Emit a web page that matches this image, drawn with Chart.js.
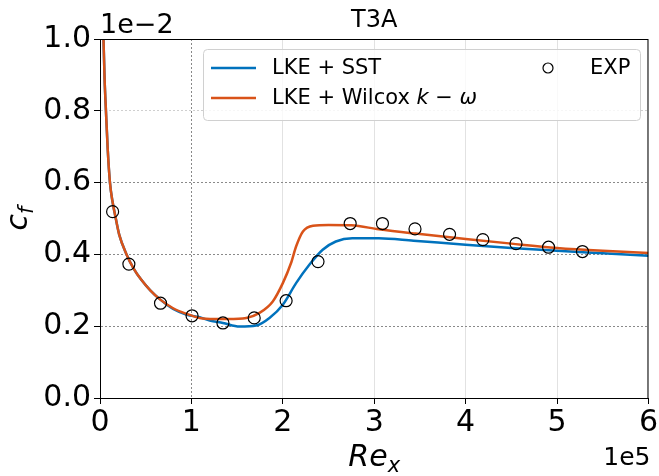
<!DOCTYPE html>
<html>
<head>
<meta charset="utf-8">
<script src="https://cdn.jsdelivr.net/npm/chart.js@4/dist/chart.umd.min.js"></script>
<style>
	body { margin: 0; background: #fff; }
</style>
</head>
<body>
<canvas id="chart-cf" width="659" height="476"></canvas>
<script>
// Re_x in units of 1e5, c_f in units of 1e-2
const wilcoxRe = [0.03, 0.036, 0.05, 0.065, 0.085, 0.109, 0.135, 0.165, 0.21, 0.29, 0.37, 0.45, 0.55, 0.66, 0.8, 0.95, 1.09, 1.25, 1.4, 1.6, 1.745, 1.89, 2.0, 2.09, 2.145, 2.22, 2.33, 2.5, 2.75, 3.05, 3.45, 4.0, 4.5, 5.0, 5.5, 6.0];
const wilcoxCf = [1.1, 1.02, 0.89, 0.80, 0.69, 0.60, 0.55, 0.51, 0.455, 0.40, 0.36, 0.33, 0.30, 0.274, 0.25, 0.234, 0.223, 0.220, 0.220, 0.223, 0.237, 0.269, 0.320, 0.376, 0.422, 0.464, 0.480, 0.482, 0.481, 0.470, 0.458, 0.443, 0.430, 0.418, 0.410, 0.404];

const sstRe = [0.03, 0.036, 0.05, 0.065, 0.085, 0.109, 0.135, 0.165, 0.21, 0.29, 0.37, 0.45, 0.55, 0.66, 0.8, 0.95, 1.09, 1.2, 1.345, 1.527, 1.708, 1.854, 2.0, 2.145, 2.29, 2.436, 2.58, 2.76, 3.05, 3.43, 4.0, 4.5, 5.0, 5.5, 6.0];
const sstCf = [1.1, 1.02, 0.89, 0.80, 0.69, 0.60, 0.55, 0.51, 0.455, 0.40, 0.36, 0.33, 0.30, 0.274, 0.248, 0.232, 0.225, 0.216, 0.209, 0.199, 0.202, 0.223, 0.260, 0.320, 0.371, 0.413, 0.436, 0.445, 0.445, 0.438, 0.427, 0.418, 0.410, 0.403, 0.396];

const expRe = [0.138, 0.316, 0.662, 1.007, 1.345, 1.687, 2.036, 2.385, 2.737, 3.09, 3.446, 3.824, 4.188, 4.551, 4.907, 5.278];
const expCf = [0.519, 0.373, 0.264, 0.229, 0.209, 0.223, 0.271, 0.380, 0.486, 0.486, 0.471, 0.456, 0.441, 0.430, 0.420, 0.408];

const xTicks = [0, 1, 2, 3, 4, 5, 6];
const yTicks = [0, 0.2, 0.4, 0.6, 0.8, 1.0];

const FONT = "'DejaVu Sans', sans-serif";
const BLUE = '#0072bd';
const ORANGE = '#d95319';

const toPoints = (xs, ys) => xs.map((x, i) => ({ x: x, y: ys[i] }));

// draws text runs, each [text, italic]
function drawRuns(ctx, runs, x, y, size) {
	runs.forEach(r => {
		ctx.font = (r[1] ? 'italic ' : '') + size + 'px ' + FONT;
		ctx.fillText(r[0], x, y);
		x += ctx.measureText(r[0]).width;
	});
}

// frame, texts and matplotlib-like legend
const decorations = {
	id: 'decorations',
	afterDraw(chart) {
		const ctx = chart.ctx;
		const a = chart.chartArea;
		ctx.save();

		ctx.strokeStyle = '#000';
		ctx.lineWidth = 1;
		ctx.strokeRect(a.left + 0.5, a.top + 0.5, a.right - a.left - 1, a.bottom - a.top);

		ctx.fillStyle = '#000';
		ctx.textBaseline = 'alphabetic';

		ctx.font = '24px ' + FONT;
		ctx.textAlign = 'center';
		ctx.fillText('T3A', (a.left + a.right) / 2, 27);

		ctx.font = '27px ' + FONT;
		ctx.textAlign = 'left';
		ctx.fillText('1e\u22122', a.left, 33);

		ctx.font = '25px ' + FONT;
		ctx.textAlign = 'right';
		ctx.fillText('1e5', a.right + 2, 465);

		// x label Re_x
		ctx.textAlign = 'left';
		ctx.font = 'italic 30px ' + FONT;
		const reW = ctx.measureText('Re').width;
		ctx.font = 'italic 21px ' + FONT;
		const xW = ctx.measureText('x').width;
		let sx = (a.left + a.right) / 2 - (reW + xW) / 2;
		ctx.font = 'italic 30px ' + FONT;
		ctx.fillText('Re', sx, 466);
		ctx.font = 'italic 21px ' + FONT;
		ctx.fillText('x', sx + reW, 472);

		// y label c_f
		ctx.translate(27, (a.top + a.bottom) / 2);
		ctx.rotate(-Math.PI / 2);
		ctx.font = 'italic 30px ' + FONT;
		const cW = ctx.measureText('c').width;
		ctx.font = 'italic 21px ' + FONT;
		const fW = ctx.measureText('f').width;
		sx = -(cW + fW) / 2;
		ctx.font = 'italic 30px ' + FONT;
		ctx.fillText('c', sx, 0);
		ctx.font = 'italic 21px ' + FONT;
		ctx.fillText('f', sx + cW, 6);
		ctx.setTransform(1, 0, 0, 1, 0, 0);

		// legend box
		const bx = 203, by = 49, bw = 437, bh = 71;
		ctx.beginPath();
		ctx.roundRect(bx + 0.5, by + 0.5, bw, bh, 4);
		ctx.fillStyle = 'rgba(255,255,255,0.8)';
		ctx.fill();
		ctx.strokeStyle = '#d0d0d0';
		ctx.stroke();

		const ds = chart.data.datasets;
		const rows = [68, 98];
		ctx.textBaseline = 'middle';
		ctx.textAlign = 'left';
		[ds[2], ds[1]].forEach((d, i) => {
			ctx.strokeStyle = d.borderColor;
			ctx.lineWidth = 2.5;
			ctx.beginPath();
			ctx.moveTo(211, rows[i]);
			ctx.lineTo(256, rows[i]);
			ctx.stroke();
			ctx.fillStyle = '#000';
			// k and omega in italics, like mathtext
			const parts = d.label.split(/(k|\u03c9)/).filter(p => p !== '').map(p => [p, p === 'k' || p === '\u03c9']);
			drawRuns(ctx, parts, 272, rows[i] + 1, 21);
		});
		ctx.strokeStyle = '#000';
		ctx.lineWidth = 1.2;
		ctx.beginPath();
		ctx.arc(548, rows[0], 5, 0, Math.PI * 2);
		ctx.stroke();
		ctx.fillStyle = '#000';
		ctx.font = '21px ' + FONT;
		ctx.fillText(ds[0].label, 590, rows[0] + 1);

		ctx.restore();
	}
};

const ctxCf = document.querySelector('#chart-cf').getContext('2d');

const chartCf = new Chart(ctxCf, {
	type: 'line',
	data: {
		datasets: [
			{
				label: 'EXP',
				data: toPoints(expRe, expCf),
				showLine: false,
				pointStyle: 'circle',
				pointRadius: 6,
				pointBorderWidth: 1.2,
				pointBorderColor: '#000',
				pointBackgroundColor: 'rgba(0,0,0,0)',
				borderColor: '#000',
				order: 0
			},
			{
				label: 'LKE + Wilcox k \u2212 \u03c9',
				data: toPoints(wilcoxRe, wilcoxCf),
				borderColor: ORANGE,
				borderWidth: 2.5,
				pointRadius: 0,
				cubicInterpolationMode: 'monotone',
				order: 1
			},
			{
				label: 'LKE + SST',
				data: toPoints(sstRe, sstCf),
				borderColor: BLUE,
				borderWidth: 2.5,
				pointRadius: 0,
				cubicInterpolationMode: 'monotone',
				order: 2
			}
		]
	},
	options: {
		responsive: false,
		animation: false,
		layout: {
			padding: { left: 0, right: 9, top: 39, bottom: 0 }
		},
		scales: {
			x: {
				type: 'linear',
				min: 0,
				max: 6,
				afterBuildTicks: scale => { scale.ticks = xTicks.map(v => ({ value: v })); },
				afterFit: scale => { scale.height = 78; },
				ticks: {
					color: '#000',
					padding: 1,
					maxRotation: 0,
					font: { family: FONT, size: 30 },
					callback: v => String(v)
				},
				grid: {
					color: ctx => ctx.tick && ctx.tick.value === 1 ? '#888' : '#e2e2e2',
					lineWidth: 1,
					tickLength: 6,
					tickColor: '#000'
				},
				border: {
					color: '#000',
					width: 1,
					dash: ctx => ctx.tick && ctx.tick.value === 1 ? [2, 2] : []
				}
			},
			y: {
				min: 0,
				max: 1,
				afterBuildTicks: scale => { scale.ticks = yTicks.map(v => ({ value: v })); },
				afterFit: scale => { scale.width = 100; },
				ticks: {
					color: '#000',
					padding: 3,
					font: { family: FONT, size: 30 },
					callback: v => v.toFixed(1)
				},
				grid: {
					color: ctx => ctx.tick && ctx.tick.value === 0.8 ? '#cfcfcf' : '#8a8a8a',
					lineWidth: 1,
					tickLength: 6,
					tickColor: '#000'
				},
				border: {
					color: '#000',
					width: 1,
					dash: [2, 2]
				}
			}
		},
		plugins: {
			legend: { display: false },
			title: { display: false },
			tooltip: { enabled: false }
		}
	},
	plugins: [decorations]
});
</script>
</body>
</html>
